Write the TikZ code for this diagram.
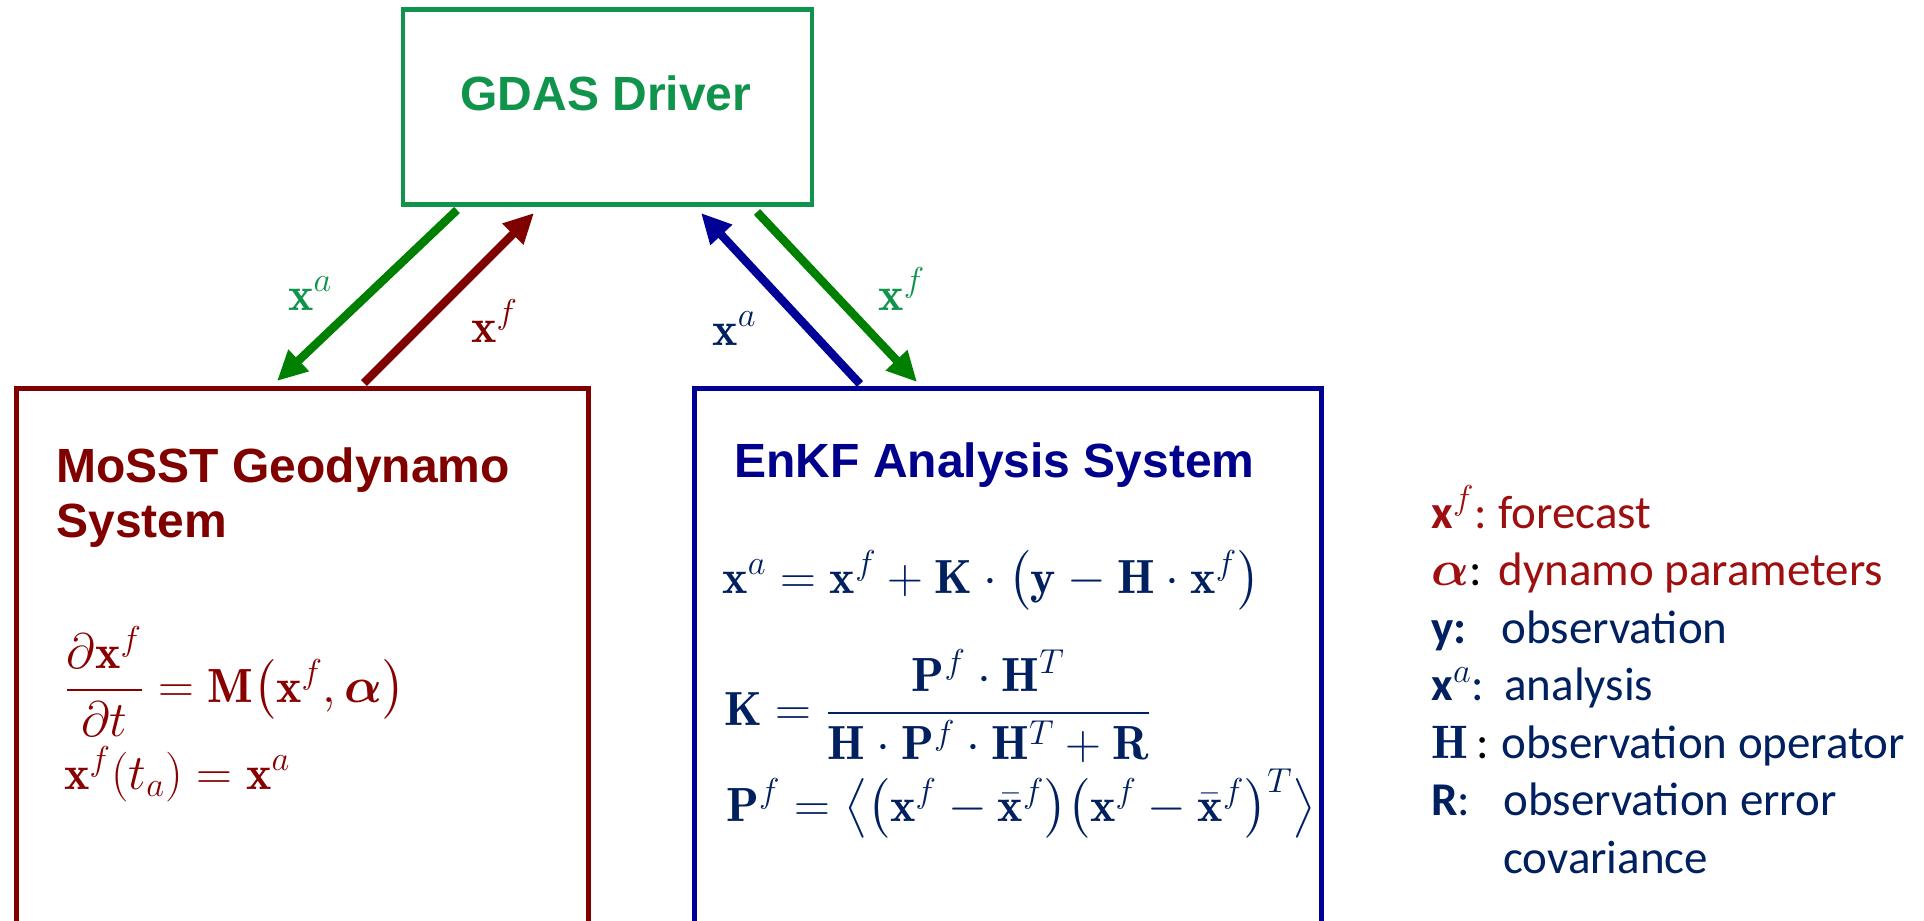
\documentclass[tikz,border=0pt]{standalone}
\usepackage{amsmath}
\usepackage{bm}
\usepackage{fontspec}
\newfontfamily\headfont{Liberation Sans}
\newfontfamily\legfont{Carlito}
\usetikzlibrary{arrows.meta,calc}

\definecolor{gdasgreen}{RGB}{16,148,76}
\definecolor{flowgreen}{RGB}{0,128,0}
\definecolor{mossred}{RGB}{128,0,0}
\definecolor{eqred}{RGB}{136,0,0}
\definecolor{enkfblue}{RGB}{0,0,150}
\definecolor{titleblue}{RGB}{0,0,140}
\definecolor{eqnavy}{RGB}{0,32,96}
\definecolor{legred}{RGB}{158,16,16}

\begin{document}
\begin{tikzpicture}[x=0.5pt,y=-0.5pt,
  box/.style={draw, inner sep=0pt, outer sep=0pt},
  head/.style={font=\headfont\bfseries\fontsize{24}{28}\selectfont, inner sep=0pt, anchor=base west},
  eq/.style={font=\fontsize{24}{28}\selectfont, inner sep=0pt, anchor=base west},
  leg/.style={font=\legfont\fontsize{23.5}{28}\selectfont, inner sep=0pt, anchor=base west},
  flow/.style={line width=4.2pt, -{Triangle[length=15pt,width=14pt]}}]

\path[use as bounding box, fill=white] (0,0) rectangle (1924,921);

% the three system boxes (the two lower ones run off the bottom)
\begin{scope}
\clip (0,0) rectangle (1924,921);
\node[box, draw=gdasgreen, line width=2.25pt, minimum width=204.5pt, minimum height=97.5pt] (gdas) at (607.5,107) {};
\node[box, draw=mossred, line width=2.7pt, minimum width=286pt, minimum height=290pt, anchor=north west] (mosst) at (16.5,388.5) {};
\node[box, draw=enkfblue, line width=2.7pt, minimum width=313.5pt, minimum height=290pt, anchor=north west] (enkf) at (694.5,388.5) {};
\end{scope}

% box titles
\node[head, anchor=base, text=gdasgreen] (gdastitle) at (606,110) {GDAS Driver};
\node[head, text=mossred] (mosstA) at (56,482) {MoSST Geodynamo};
\node[head, text=mossred] (mosstB) at (56,537) {System};
\node[head, text=titleblue] (enkftitle) at (734,477) {EnKF Analysis System};

% model equations
\node[eq, text=eqred] (mosstEq1) at (64,702)
  {$\dfrac{\partial \mathbf{x}^{f}}{\partial t} = \mathbf{M}\bigl(\mathbf{x}^{f},\bm{\alpha}\bigr)$};
\node[eq, text=eqred] (mosstEq2) at (64,789)
  {$\mathbf{x}^{f}(t_{a}) = \mathbf{x}^{a}$};

% analysis equations
\node[eq, text=eqnavy] (enkfEq1) at (722,593)
  {$\mathbf{x}^{a} = \mathbf{x}^{f} + \mathbf{K}\cdot\bigl(\mathbf{y}-\mathbf{H}\cdot\mathbf{x}^{f}\bigr)$};
\node[eq, text=eqnavy] (enkfEq2) at (724,725)
  {$\mathbf{K} = \dfrac{\mathbf{P}^{f}\cdot\mathbf{H}^{T}}{\mathbf{H}\cdot\mathbf{P}^{f}\cdot\mathbf{H}^{T}+\mathbf{R}}$};
\node[eq, text=eqnavy] (enkfEq3) at (726,821)
  {$\mathbf{P}^{f} = \bigl\langle\bigl(\mathbf{x}^{f}-\bar{\mathbf{x}}^{f}\bigr)\bigl(\mathbf{x}^{f}-\bar{\mathbf{x}}^{f}\bigr)^{T}\bigr\rangle$};

% exchanges between the driver and the two systems
\draw[flow, flowgreen] ([shift={(54,5.5)}]gdas.south west) -- ([shift={(260.5,-7.5)}]mosst.north west);
\draw[flow, mossred] ([shift={(347.5,-5.5)}]mosst.north west) -- ([shift={(131,8.5)}]gdas.south west);
\draw[flow, enkfblue] ([shift={(165.5,-4.5)}]enkf.north west) -- ([shift={(298,8.5)}]gdas.south west);
\draw[flow, flowgreen] ([shift={(354,7.5)}]gdas.south west) -- ([shift={(222.5,-6.5)}]enkf.north west);

\node[eq, text=gdasgreen] (labA) at (288,310) {$\mathbf{x}^{a}$};
\node[eq, text=mossred] (labB) at (471,342) {$\mathbf{x}^{f}$};
\node[eq, text=eqnavy] (labC) at (712,345) {$\mathbf{x}^{a}$};
\node[eq, text=gdasgreen] (labD) at (878,310) {$\mathbf{x}^{f}$};

% legend
\node[leg, text=legred] (sym1) at (1431,528) {\textbf{x}$^{f}$:};
\node[leg, text=legred] (txt1) at (1498,528) {forecast};
\node[leg] (sym2) at (1431,585.5) {\textcolor{legred}{$\bm{\alpha}$}:};
\node[leg, text=legred] (txt2) at (1498,585.5) {dynamo parameters};
\node[leg, text=eqnavy] (sym3) at (1431,643) {\textbf{y:}};
\node[leg, text=eqnavy] (txt3) at (1501,643) {observation};
\node[leg, text=eqnavy] (sym4) at (1431,700.5) {\textbf{x}$^{a}$:};
\node[leg, text=eqnavy] (txt4) at (1504,700.5) {analysis};
\node[leg] (sym5) at (1431,758) {\textcolor{eqnavy}{$\mathbf{H}$}\,:};
\node[leg, text=eqnavy] (txt5) at (1501,758) {observation operator};
\node[leg, text=eqnavy] (sym6) at (1431,815.5) {\textbf{R}:};
\node[leg, text=eqnavy] (txt6) at (1503,815.5) {observation error};
\node[leg, text=eqnavy] (txt7) at (1503,873) {covariance};
\end{tikzpicture}
\end{document}
